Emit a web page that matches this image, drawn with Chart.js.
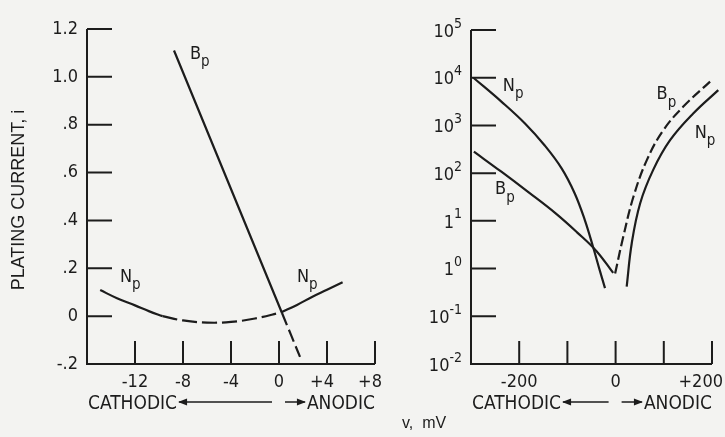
<!DOCTYPE html>
<html>
<head>
<meta charset="utf-8">
<script src="https://cdn.jsdelivr.net/npm/chart.js@4/dist/chart.umd.min.js"></script>
<style>
  html, body { margin: 0; padding: 0; background: #f3f3f1; }
  #wrap { position: relative; width: 725px; height: 437px; }
  canvas { position: absolute; left: 0; top: 0; }
</style>
</head>
<body>
<div id="wrap">
  <canvas id="leftChart" width="725" height="437"></canvas>
  <canvas id="rightChart" width="725" height="437"></canvas>
</div>
<script>
// ---- left panel (linear), v in mV, i plating current ----
const leftYTicks = [-0.2, 0, 0.2, 0.4, 0.6, 0.8, 1.0, 1.2];
const leftYLabels = ["-.2", "0", ".2", ".4", ".6", ".8", "1.0", "1.2"];
const leftXTicks = [-12, -8, -4, 0, 4, 8];
const leftXLabels = ["-12", "-8", "-4", "0", "+4", "+8"];

const leftBpSolidV = [-8.75, 0.25];
const leftBpSolidI = [1.11, 0.013];
const leftBpDashV = [0.25, 1.75];
const leftBpDashI = [0.013, -0.17];

const leftNp1V = [-14.9, -13.5, -12, -10.8, -9.7];
const leftNp1I = [0.109, 0.075, 0.045, 0.02, 0.0];
const leftNpDashV = [-9.7, -8, -6, -4, -2, 0.2];
const leftNpDashI = [0.0, -0.018, -0.027, -0.024, -0.01, 0.016];
const leftNp2V = [0.2, 1.5, 2.75, 4, 5.3];
const leftNp2I = [0.016, 0.047, 0.08, 0.11, 0.142];

// ---- right panel (log) ----
const rightYTicks = [1e-2, 1e-1, 1e0, 1e1, 1e2, 1e3, 1e4, 1e5];
const rightYBase = ["10", "10", "1", "1", "10", "10", "10", "10"];
const rightYExp = ["-2", "-1", "0", "1", "2", "3", "4", "5"];
const rightXTicks = [-200, -100, 0, 100, 200];
const rightXLabels = ["-200", "", "0", "", "+200"];

const rightNpCathV = [-295, -237, -188, -147, -112, -85, -64, -47, -33, -22];
const rightNpCathI = [10000, 3160, 1100, 380, 126, 38, 10.5, 2.9, 0.93, 0.39];
const rightBpCathV = [-294, -237, -181, -125, -80, -40, -5];
const rightBpCathI = [282, 107, 40, 14.5, 5.75, 2.34, 0.81];
const rightBpAnodV = [-1, 16, 37, 65, 99, 140, 196];
const rightBpAnodI = [0.79, 4.7, 32, 190, 794, 2450, 8300];
const rightNpAnodV = [23, 33.5, 51, 78, 113, 161, 213];
const rightNpAnodI = [0.42, 3.4, 23.4, 117, 490, 1780, 5500];

const INK = "#1c1c1c";
const TICK_FONT = "18px 'Liberation Sans Narrow', 'DejaVu Sans Condensed', sans-serif";

function pts(xs, ys) {
  return xs.map((x, k) => ({ x: x, y: ys[k] }));
}

function curve(xs, ys, dash) {
  return {
    data: pts(xs, ys),
    showLine: true,
    borderColor: INK,
    borderWidth: 2.2,
    borderDash: dash || [],
    pointRadius: 0,
    tension: 0.4,
    clip: false,
  };
}

function arrowHead(ctx, x, y, dir) {
  ctx.beginPath();
  ctx.moveTo(x, y);
  ctx.lineTo(x - dir * 9, y - 3.5);
  ctx.lineTo(x - dir * 9, y + 3.5);
  ctx.closePath();
  ctx.fill();
}

function subLabel(chart, lab) {
  const ctx = chart.ctx;
  const x = chart.scales.x.getPixelForValue(lab.x);
  const y = chart.scales.y.getPixelForValue(lab.y);
  ctx.font = "18px 'Liberation Sans Narrow', 'DejaVu Sans Condensed', sans-serif";
  ctx.textAlign = "left";
  ctx.textBaseline = "middle";
  ctx.fillText(lab.t, x, y);
  const w = ctx.measureText(lab.t).width;
  ctx.font = "15px 'Liberation Sans Narrow', 'DejaVu Sans Condensed', sans-serif";
  ctx.fillText(lab.s, x + w, y + 8);
}

const framePlugin = {
  id: "frame",
  afterDraw: function (chart, args, o) {
    const ctx = chart.ctx;
    const a = chart.chartArea;
    const xs = chart.scales.x;
    const ys = chart.scales.y;
    ctx.save();
    ctx.strokeStyle = INK;
    ctx.fillStyle = INK;
    ctx.lineWidth = 2;

    // axis lines
    ctx.beginPath();
    ctx.moveTo(a.left, a.top);
    ctx.lineTo(a.left, a.bottom);
    ctx.lineTo(a.right, a.bottom);
    ctx.stroke();

    // inward tick marks
    ctx.beginPath();
    o.yTicks.forEach(function (v, k) {
      if (k === 0) return;
      const y = ys.getPixelForValue(v);
      ctx.moveTo(a.left, y);
      ctx.lineTo(a.left + 25, y);
    });
    o.xTicks.forEach(function (v) {
      const x = xs.getPixelForValue(v);
      ctx.moveTo(x, a.bottom);
      ctx.lineTo(x, a.bottom - 23);
    });
    ctx.stroke();

    // x tick labels
    ctx.font = TICK_FONT;
    ctx.textBaseline = "alphabetic";
    ctx.textAlign = "center";
    o.xTicks.forEach(function (v, k) {
      const lab = o.xLabels[k];
      if (!lab) return;
      let x = xs.getPixelForValue(v);
      if (lab[0] === "+") x -= 5;
      const half = ctx.measureText(lab).width / 2;
      if (x + half > chart.width - 2) x = chart.width - 2 - half;
      ctx.fillText(lab, x, a.bottom + 23);
    });

    // y tick labels
    ctx.textAlign = "right";
    ctx.textBaseline = "middle";
    o.yTicks.forEach(function (v, k) {
      const y = ys.getPixelForValue(v);
      if (o.yExp) {
        ctx.font = "14px 'Liberation Sans Narrow', 'DejaVu Sans Condensed', sans-serif";
        const ew = ctx.measureText(o.yExp[k]).width;
        ctx.fillText(o.yExp[k], a.left - 9, y - 6);
        ctx.font = TICK_FONT;
        ctx.fillText(o.yBase[k], a.left - 9 - ew, y + 2);
      } else {
        ctx.font = TICK_FONT;
        ctx.fillText(o.yLabels[k], a.left - 9, y);
      }
    });

    // cathodic / anodic legend under the axis
    const x0 = xs.getPixelForValue(0);
    const by = a.bottom + 45;
    ctx.font = "19px 'Liberation Sans Narrow', 'DejaVu Sans Condensed', sans-serif";
    ctx.textAlign = "left";
    ctx.textBaseline = "alphabetic";
    ctx.fillText("CATHODIC", a.left + 1, by);
    const cw = ctx.measureText("CATHODIC").width;
    ctx.textAlign = "right";
    ctx.fillText("ANODIC", a.right, by);
    const aw = ctx.measureText("ANODIC").width;
    const ay = by - 7;
    ctx.lineWidth = 1.6;
    ctx.beginPath();
    ctx.moveTo(a.left + 1 + cw + 2, ay);
    ctx.lineTo(x0 - 7, ay);
    ctx.moveTo(x0 + 6, ay);
    ctx.lineTo(a.right - aw - 2, ay);
    ctx.stroke();
    arrowHead(ctx, a.left + 1 + cw + 1, ay, -1);
    arrowHead(ctx, a.right - aw - 1, ay, 1);

    // curve names
    o.names.forEach(function (lab) { subLabel(chart, lab); });

    // extra texts
    if (o.yTitle) {
      ctx.save();
      ctx.translate(19, 200);
      ctx.rotate(-Math.PI / 2);
      ctx.font = "18px 'Liberation Sans', Arial, sans-serif";
      ctx.textAlign = "center";
      ctx.textBaseline = "middle";
      ctx.fillText(o.yTitle, 0, 0);
      ctx.restore();
    }
    if (o.xTitle) {
      ctx.font = "16px 'Liberation Sans', Arial, sans-serif";
      ctx.textAlign = "left";
      ctx.textBaseline = "alphabetic";
      ctx.fillText(o.xTitle, 402, 428);
    }
    ctx.restore();
  },
};

function baseOptions(pad, xmin, xmax, yScale, frame) {
  return {
    responsive: false,
    animation: false,
    layout: { padding: pad },
    scales: {
      x: { type: "linear", min: xmin, max: xmax, display: false },
      y: yScale,
    },
    plugins: {
      legend: { display: false },
      tooltip: { enabled: false },
      frame: frame,
    },
  };
}

const leftChart = new Chart(document.getElementById("leftChart").getContext("2d"), {
  type: "scatter",
  data: {
    datasets: [
      curve(leftBpSolidV, leftBpSolidI),
      curve(leftBpDashV, leftBpDashI, [13, 5]),
      curve(leftNp1V, leftNp1I),
      curve(leftNpDashV, leftNpDashI, [15, 5]),
      curve(leftNp2V, leftNp2I),
    ],
  },
  options: baseOptions(
    { left: 87, right: 350, top: 29, bottom: 73 },
    -16, 8,
    { type: "linear", min: -0.2, max: 1.2, display: false },
    {
      yTicks: leftYTicks,
      yLabels: leftYLabels,
      xTicks: leftXTicks,
      xLabels: leftXLabels,
      names: [
        { t: "B", s: "p", x: -7.42, y: 1.096 },
        { t: "N", s: "p", x: -13.25, y: 0.163 },
        { t: "N", s: "p", x: 1.5, y: 0.163 },
      ],
      yTitle: "PLATING CURRENT, i",
      xTitle: "v,  mV",
    }
  ),
  plugins: [framePlugin],
});

const rightChart = new Chart(document.getElementById("rightChart").getContext("2d"), {
  type: "scatter",
  data: {
    datasets: [
      curve(rightNpCathV, rightNpCathI),
      curve(rightBpCathV, rightBpCathI),
      curve(rightBpAnodV, rightBpAnodI, [10, 4]),
      curve(rightNpAnodV, rightNpAnodI),
    ],
  },
  options: baseOptions(
    { left: 471, right: 13, top: 30, bottom: 73 },
    -300, 200,
    { type: "logarithmic", min: 0.01, max: 100000, display: false },
    {
      yTicks: rightYTicks,
      yBase: rightYBase,
      yExp: rightYExp,
      xTicks: rightXTicks,
      xLabels: rightXLabels,
      names: [
        { t: "N", s: "p", x: -234, y: 6700 },
        { t: "B", s: "p", x: -250, y: 45 },
        { t: "B", s: "p", x: 85, y: 4400 },
        { t: "N", s: "p", x: 164, y: 690 },
      ],
    }
  ),
  plugins: [framePlugin],
});
</script>
</body>
</html>
